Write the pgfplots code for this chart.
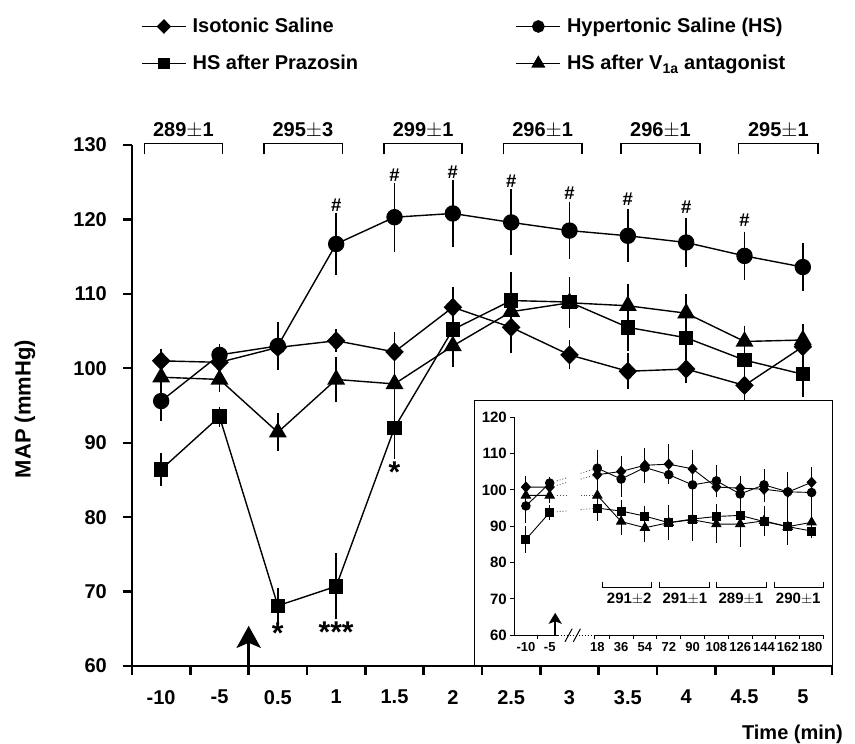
\documentclass[border=0pt]{standalone}
\usepackage{fontspec}
\setmainfont{Liberation Sans}
\usepackage{pgfplots}
\usepackage{pgfplotstable}
\pgfplotsset{compat=1.18}
\usetikzlibrary{arrows.meta}

\pgfplotstableread{
x y e
0 101.0 0.7
1 100.8 0.6
2 102.8 0.7
3 103.7 0.6
4 102.2 1.8
5 108.2 1.8
6 105.5 2.5
7 101.8 1.0
8 99.6 1.5
9 99.9 1.0
10 97.7 1.7
11 102.9 2.0
}\iso
\pgfplotstableread{
x y e
0 95.6 1.8
1 101.8 0.5
2 103.0 2.3
3 116.7 3.2
4 120.3 3.7
5 120.8 3.6
6 119.6 3.5
7 118.5 2.9
8 117.8 2.6
9 116.9 2.4
10 115.1 2.3
11 113.6 2.3
}\hs
\pgfplotstableread{
x y e
0 86.4 1.3
1 93.5 0.4
2 68.1 1.5
3 70.7 3.5
4 92.0 3.2
5 105.2 2.3
6 109.1 2.9
7 108.9 2.4
8 105.5 2.2
9 104.1 2.1
10 101.1 1.8
11 99.2 2.1
}\praz
\pgfplotstableread{
x y e
0 98.8 1.0
1 98.5 0.8
2 91.4 1.6
3 98.5 2.1
4 97.9 2.4
5 103.0 1.9
6 107.6 2.0
7 108.8 2.4
8 108.4 2.0
9 107.4 1.7
10 103.6 1.2
11 103.8 1.2
}\vone

\pgfplotstableread{
x y e
0 100.8 2.0
1 100.8 0.8
2 nan 0
3 104.2 2.0
4 105.1 3.4
5 106.8 3.8
6 107.1 4.6
7 105.8 4.3
8 100.8 1.9
9 100.5 2.3
10 100.2 2.5
11 99.4 2.5
12 102.1 3.2
}\isoI
\pgfplotstableread{
x y e
0 95.6 3.7
1 101.9 0.8
2 nan 0
3 106.0 3.9
4 103.0 3.9
5 106.2 3.4
6 104.2 1.5
7 101.4 3.7
8 102.5 3.5
9 98.9 3.0
10 101.4 3.4
11 99.5 4.5
12 99.3 3.4
}\hsI
\pgfplotstableread{
x y e
0 86.4 2.7
1 93.8 1.0
2 nan 0
3 95.0 2.5
4 94.2 2.1
5 92.8 1.9
6 91.0 3.8
7 92.0 3.0
8 92.7 2.5
9 93.0 3.0
10 91.3 3.0
11 89.9 4.1
12 88.7 0.8
}\prazI
\pgfplotstableread{
x y e
0 98.5 1.0
1 98.5 1.0
2 nan 0
3 98.5 3.0
4 91.3 2.7
5 89.6 2.9
6 91.0 2.5
7 91.8 4.9
8 90.6 4.1
9 90.6 5.3
10 91.5 3.0
11 89.9 3.5
12 91.1 3.4
}\voneI

\newcommand\bigf{\fontsize{20}{24}\selectfont\bfseries}
\newcommand\labf{\fontsize{22}{26}\selectfont\bfseries}
\newcommand\legf{\fontsize{20}{24}\selectfont\bfseries}
\newcommand\medf{\fontsize{20}{24}\selectfont\bfseries}
\newcommand\hashf{\fontsize{18.5}{22}\selectfont\bfseries}
\newcommand\insf{\fontsize{15}{18}\selectfont\bfseries}
\newcommand\inxf{\fontsize{13}{15}\selectfont\bfseries}
\newcommand\starf{\fontsize{30}{32}\selectfont\bfseries}

\begin{document}
\begin{tikzpicture}
\useasboundingbox (0,0) rectangle (855pt,744pt);
\begin{axis}[
  at={(132pt,78pt)}, anchor=south west,
  width=700pt, height=521pt, scale only axis,
  xmin=-0.5, xmax=11.5, ymin=60, ymax=130,
  clip=false,
  axis x line=bottom, axis y line=left,
  axis line style={-, line width=2.6pt},
  tick align=outside,
  major tick length=9pt, minor tick length=9pt,
  ytick={60,70,...,130},
  xtick={0,...,11},
  xticklabels={-10,-5,0.5,1,1.5,2,2.5,3,3.5,4,4.5,5},
  minor xtick={-0.5,0.5,...,11.5},
  major x tick style={draw=none},
  minor x tick style={line width=2.4pt, black},
  y tick style={line width=2.4pt, black},
  tick label style={font=\bigf},
  /pgf/number format/assume math mode=true,
  xticklabel style={inner sep=0pt, anchor=north, yshift=-15pt},
  yticklabel style={inner sep=0pt, anchor=east, xshift=-16pt},
  legend columns=2,
  legend style={at={(axis description cs:0.0129,1.192)}, anchor=west, draw=none, fill=none,
    inner sep=0pt, font=\legf, row sep=21pt, legend cell align=left,
    nodes={inner sep=0pt},
    /tikz/column 1/.style={column sep=6pt},
    /tikz/column 3/.style={column sep=6pt}},
  legend image code/.code={\pgfmathsetlength\pgfplotmarksize{0.75\pgfplotmarksize}\draw[mark repeat=2,mark phase=2] plot coordinates {(0pt,0pt) (22pt,0pt) (44pt,0pt)};},
]
\addplot[black, line width=1.4pt, mark=diamond*, mark size=8.5pt, mark options={xscale=1.3},
  error bars/.cd, y dir=both, y explicit, error bar style={line width=1.6pt},
  error mark options={line width=1.6pt, mark size=7pt}] table[x=x, y=y, y error=e] {\iso};
\addlegendentry{\makebox[323pt][l]{Isotonic Saline}}
\addplot[black, line width=1.4pt, mark=*, mark size=7.5pt,
  error bars/.cd, y dir=both, y explicit, error bar style={line width=1.6pt},
  error mark options={line width=1.6pt, mark size=7pt}] table[x=x, y=y, y error=e] {\hs};
\addlegendentry{Hypertonic Saline (HS)}
\addplot[black, line width=1.4pt, mark=square*, mark size=6.5pt,
  error bars/.cd, y dir=both, y explicit, error bar style={line width=1.6pt},
  error mark options={line width=1.6pt, mark size=7pt}] table[x=x, y=y, y error=e] {\praz};
\addlegendentry{\makebox[323pt][l]{HS after Prazosin}}
\addplot[black, line width=1.4pt, mark=triangle*, mark size=9pt,
  error bars/.cd, y dir=both, y explicit, error bar style={line width=1.6pt},
  error mark options={line width=1.6pt, mark size=7pt}] table[x=x, y=y, y error=e] {\vone};
\addlegendentry{HS after V\textsubscript{1a} antagonist}

% brackets
\draw[line width=1.5pt] (axis cs:-0.29,128.75) -- (axis cs:-0.29,130.23) -- (axis cs:1.05,130.23) -- (axis cs:1.05,128.75);
\draw[line width=1.5pt] (axis cs:1.76,128.75) -- (axis cs:1.76,130.23) -- (axis cs:3.11,130.23) -- (axis cs:3.11,128.75);
\draw[line width=1.5pt] (axis cs:3.82,128.75) -- (axis cs:3.82,130.23) -- (axis cs:5.16,130.23) -- (axis cs:5.16,128.75);
\draw[line width=1.5pt] (axis cs:5.87,128.75) -- (axis cs:5.87,130.23) -- (axis cs:7.21,130.23) -- (axis cs:7.21,128.75);
\draw[line width=1.5pt] (axis cs:7.88,128.75) -- (axis cs:7.88,130.23) -- (axis cs:9.24,130.23) -- (axis cs:9.24,128.75);
\draw[line width=1.5pt] (axis cs:9.90,128.75) -- (axis cs:9.90,130.23) -- (axis cs:11.26,130.23) -- (axis cs:11.26,128.75);
\node[font=\medf, inner sep=0pt] at (axis cs:0.38,132.0) {289$\pm$1};
\node[font=\medf, inner sep=0pt] at (axis cs:2.43,132.0) {295$\pm$3};
\node[font=\medf, inner sep=0pt] at (axis cs:4.49,132.0) {299$\pm$1};
\node[font=\medf, inner sep=0pt] at (axis cs:6.54,132.0) {296$\pm$1};
\node[font=\medf, inner sep=0pt] at (axis cs:8.56,132.0) {296$\pm$1};
\node[font=\medf, inner sep=0pt] at (axis cs:10.58,132.0) {295$\pm$1};
% significance marks
\node[font=\hashf, inner sep=0pt] at (axis cs:3,121.9) {\#};
\node[font=\hashf, inner sep=0pt] at (axis cs:4,126.0) {\#};
\node[font=\hashf, inner sep=0pt] at (axis cs:5,126.3) {\#};
\node[font=\hashf, inner sep=0pt] at (axis cs:6,125.2) {\#};
\node[font=\hashf, inner sep=0pt] at (axis cs:7,123.5) {\#};
\node[font=\hashf, inner sep=0pt] at (axis cs:8,122.7) {\#};
\node[font=\hashf, inner sep=0pt] at (axis cs:9,121.6) {\#};
\node[font=\hashf, inner sep=0pt] at (axis cs:10,119.9) {\#};
\node[font=\starf, inner sep=0pt, anchor=north] at (axis cs:2,65.8) {*};
\node[font=\starf, inner sep=0pt, anchor=north] at (axis cs:3,65.9) {***};
\node[font=\starf, inner sep=0pt, anchor=north] at (axis cs:4,87.4) {*};
% arrow
\draw[line width=3.5pt, -{Stealth[length=22pt, width=24pt, inset=5pt]}] (axis cs:1.5,60) -- (axis cs:1.5,65.4);
\end{axis}

\node[font=\labf, rotate=90] at (25pt,335pt) {MAP (mmHg)};
\node[font=\bigf, anchor=base east, inner sep=0pt] at (843pt,4pt) {Time (min)};

% inset
\draw[line width=1pt, fill=white] (474pt,78pt) rectangle (832pt,343pt);
\begin{axis}[
  at={(514pt,108.7pt)}, anchor=south west,
  width=309.5pt, height=218pt, scale only axis,
  xmin=-0.5, xmax=12.5, ymin=60, ymax=120,
  clip=false,
  axis x line=bottom, axis y line=left,
  axis line style={-, line width=1pt},
  x axis line style={draw=none},
  tick align=outside,
  major tick length=4pt, minor tick length=4pt,
  ytick={60,70,...,120},
  xtick={0,1,3,4,5,6,7,8,9,10,11,12},
  xticklabels={-10,-5,18,36,54,72,90,108,126,144,162,180},
  minor xtick={0.5,2.87,3.5,4.5,5.5,6.5,7.5,8.5,9.5,10.5,11.5,12.5},
  major x tick style={draw=none},
  minor x tick style={line width=1pt, black},
  y tick style={line width=1pt, black},
  yticklabel style={font=\insf, inner sep=0pt, anchor=east, xshift=-3pt},
  xticklabel style={font=\inxf, inner sep=0pt, anchor=north, yshift=-3pt},
  /pgf/number format/assume math mode=true,
  unbounded coords=jump,
]
\addplot[black, line width=0.9pt, mark=diamond*, mark size=5pt, mark options={xscale=1.2},
  error bars/.cd, y dir=both, y explicit, error bar style={line width=0.9pt},
  error mark options={line width=0.9pt, mark size=3.5pt}] table[x=x, y=y, y error=e] {\isoI};
\addplot[black, line width=0.9pt, mark=*, mark size=4.3pt,
  error bars/.cd, y dir=both, y explicit, error bar style={line width=0.9pt},
  error mark options={line width=0.9pt, mark size=3.5pt}] table[x=x, y=y, y error=e] {\hsI};
\addplot[black, line width=0.9pt, mark=square*, mark size=4pt,
  error bars/.cd, y dir=both, y explicit, error bar style={line width=0.9pt},
  error mark options={line width=0.9pt, mark size=3.5pt}] table[x=x, y=y, y error=e] {\prazI};
\addplot[black, line width=0.9pt, mark=triangle*, mark size=5.3pt,
  error bars/.cd, y dir=both, y explicit, error bar style={line width=0.9pt},
  error mark options={line width=0.9pt, mark size=3.5pt}] table[x=x, y=y, y error=e] {\voneI};
% dotted connectors across the break
\addplot[black!70, dotted, line width=0.9pt, no marks] coordinates {(1.3,102.5) (1.7,103.3)};
\addplot[black!70, dotted, line width=0.9pt, no marks] coordinates {(2.3,104.6) (2.8,105.6)};
\addplot[black!70, dotted, line width=0.9pt, no marks] coordinates {(1.3,101.3) (1.7,102.0)};
\addplot[black!70, dotted, line width=0.9pt, no marks] coordinates {(2.3,103.0) (2.8,103.9)};
\addplot[black!70, dotted, line width=0.9pt, no marks] coordinates {(1.3,98.5) (1.7,98.5)};
\addplot[black!70, dotted, line width=0.9pt, no marks] coordinates {(2.3,98.5) (2.8,98.5)};
\addplot[black!70, dotted, line width=0.9pt, no marks] coordinates {(1.3,94.0) (1.7,94.2)};
\addplot[black!70, dotted, line width=0.9pt, no marks] coordinates {(2.3,94.6) (2.8,94.9)};
% broken x axis
\draw[line width=1pt] (axis cs:-0.5,60) -- (axis cs:1.33,60);
\draw[line width=1pt, dotted] (axis cs:1.33,60) -- (axis cs:2.87,60);
\draw[line width=1pt] (axis cs:2.87,60) -- (axis cs:12.5,60);
\draw[line width=1pt] (axis cs:1.64,58.2) -- (axis cs:1.94,61.8);
\draw[line width=1pt] (axis cs:1.99,58.2) -- (axis cs:2.29,61.8);
% brackets
\draw[line width=1pt] (axis cs:3.22,74.8) -- (axis cs:3.22,73.2) -- (axis cs:5.28,73.2) -- (axis cs:5.28,74.8);
\draw[line width=1pt] (axis cs:5.6,74.8) -- (axis cs:5.6,73.2) -- (axis cs:7.7,73.2) -- (axis cs:7.7,74.8);
\draw[line width=1pt] (axis cs:8.0,74.8) -- (axis cs:8.0,73.2) -- (axis cs:10.1,73.2) -- (axis cs:10.1,74.8);
\draw[line width=1pt] (axis cs:10.43,74.8) -- (axis cs:10.43,73.2) -- (axis cs:12.5,73.2) -- (axis cs:12.5,74.8);
\node[font=\insf, inner sep=0pt] at (axis cs:4.34,70.0) {291$\pm$2};
\node[font=\insf, inner sep=0pt] at (axis cs:6.68,70.0) {291$\pm$1};
\node[font=\insf, inner sep=0pt] at (axis cs:9.03,70.0) {289$\pm$1};
\node[font=\insf, inner sep=0pt] at (axis cs:11.44,70.0) {290$\pm$1};
\draw[line width=2.2pt, -{Stealth[length=11pt, width=13pt, inset=2.5pt]}] (axis cs:1.23,60) -- (axis cs:1.23,66.2);
\end{axis}
\end{tikzpicture}
\end{document}
